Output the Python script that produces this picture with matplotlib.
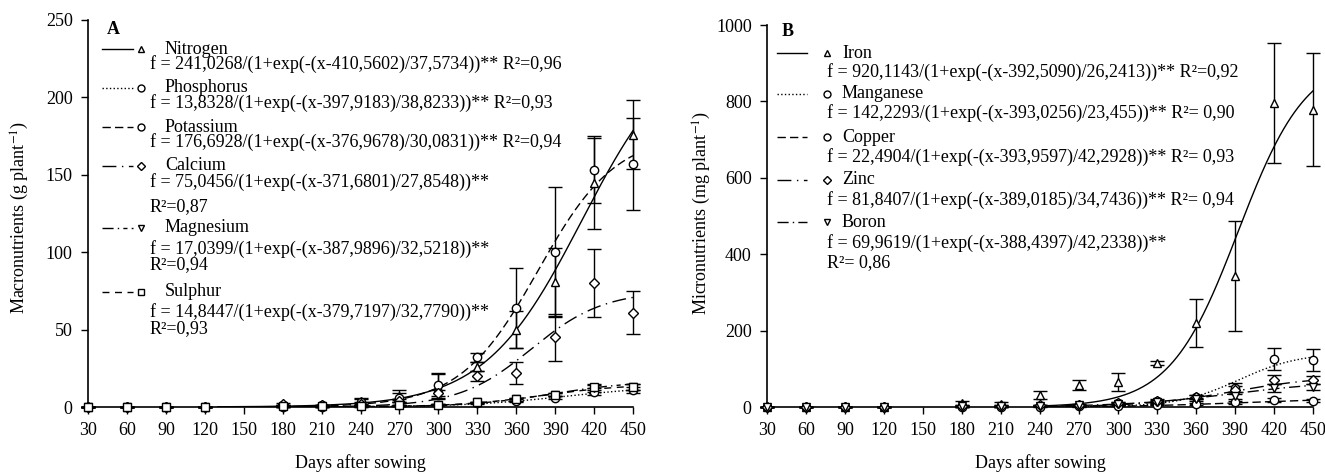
import numpy as np
import matplotlib.pyplot as plt
from matplotlib.lines import Line2D

plt.rcParams['font.family'] = ['Liberation Serif', 'DejaVu Serif']
plt.rcParams['mathtext.fontset'] = 'stix'

W, H = 1325, 474

# sampling days
days = [30, 60, 90, 120, 180, 210, 240, 270, 300, 330, 360, 390, 420, 450]

# ---- panel A: macronutrients (g plant-1) ----
nitrogen = [0, 0, 0, 0, 1, 1, 4, 7, 13, 26, 50, 81, 145, 176]
nitrogen_err = [0, 0, 0, 0, 0.5, 0.5, 2, 4, 8, 3, 12, 22, 30, 22]
phosphorus = [0, 0, 0, 0, 0.3, 0.3, 0.5, 1, 1.5, 2.5, 4, 6, 10, 11]
phosphorus_err = [0, 0, 0, 0, 0, 0, 0.3, 0.5, 0.5, 0.5, 1, 1, 2, 2]
potassium = [0, 0, 0, 0, 1, 1, 3, 6, 14, 32, 64, 100, 153, 157]
potassium_err = [0, 0, 0, 0, 0.5, 0.5, 2, 3, 8, 3, 26, 42, 21, 30]
calcium = [0, 0, 0, 0, 2, 1, 2, 4, 9, 20, 22, 45, 80, 61]
calcium_err = [0, 0, 0, 0, 0.5, 0.5, 1, 1, 2, 3, 7, 15, 22, 14]
magnesium = [0, 0, 0, 0, 0.3, 0.3, 0.5, 1, 1.5, 3, 5, 8, 12, 13]
magnesium_err = [0, 0, 0, 0, 0, 0, 0.3, 0.5, 0.5, 0.5, 1, 1, 2, 2]
sulphur = [0, 0, 0, 0, 0.5, 0.5, 0.8, 1, 1.5, 3, 5, 8, 13, 13]
sulphur_err = [0, 0, 0, 0, 0, 0, 0.3, 0.5, 0.5, 0.5, 1, 1, 2, 2]

macro_names = ['Nitrogen', 'Phosphorus', 'Potassium', 'Calcium', 'Magnesium', 'Sulphur']
macro_a = [241.0268, 13.8328, 176.6928, 75.0456, 17.0399, 14.8447]
macro_x0 = [410.5602, 397.9183, 376.9678, 371.6801, 387.9896, 379.7197]
macro_b = [37.5734, 38.8233, 30.0831, 27.8548, 32.5218, 32.7790]
macro_eq = ['f = 241,0268/(1+exp(-(x-410,5602)/37,5734))** R²=0,96',
            'f = 13,8328/(1+exp(-(x-397,9183)/38,8233))** R²=0,93',
            'f = 176,6928/(1+exp(-(x-376,9678)/30,0831))** R²=0,94',
            'f = 75,0456/(1+exp(-(x-371,6801)/27,8548))**',
            'f = 17,0399/(1+exp(-(x-387,9896)/32,5218))**',
            'f = 14,8447/(1+exp(-(x-379,7197)/32,7790))**']
macro_r2 = [None, None, None, 'R²=0,87', 'R²=0,94', 'R²=0,93']

# ---- panel B: micronutrients (mg plant-1) ----
iron = [0, 0, 0, 0, 10, 8, 31, 57, 66, 115, 220, 343, 796, 778]
iron_err = [0, 0, 0, 0, 6, 4, 10, 13, 24, 6, 62, 144, 158, 148]
manganese = [0, 0, 0, 0, 2, 2, 3, 4, 10, 15, 26, 50, 126, 123]
manganese_err = [0, 0, 0, 0, 1, 1, 1, 2, 3, 4, 6, 12, 28, 30]
copper = [0, 0, 0, 0, 1, 1, 1, 2, 3, 5, 8, 12, 18, 16]
copper_err = [0, 0, 0, 0, 0, 0, 0.5, 1, 1, 1, 2, 4, 5, 4]
zinc = [0, 0, 0, 0, 3, 3, 4, 5, 10, 16, 26, 45, 71, 71]
zinc_err = [0, 0, 0, 0, 1, 1, 1, 2, 3, 4, 6, 10, 12, 10]
boron = [0, 0, 0, 0, 2, 2, 3, 4, 8, 12, 20, 30, 50, 53]
boron_err = [0, 0, 0, 0, 1, 1, 1, 1, 2, 3, 4, 8, 10, 8]

micro_names = ['Iron', 'Manganese', 'Copper', 'Zinc', 'Boron']
micro_a = [920.1143, 142.2293, 22.4904, 81.8407, 69.9619]
micro_x0 = [392.5090, 393.0256, 393.9597, 389.0185, 388.4397]
micro_b = [26.2413, 23.455, 42.2928, 34.7436, 42.2338]
micro_eq = ['f = 920,1143/(1+exp(-(x-392,5090)/26,2413))** R²=0,92',
            'f = 142,2293/(1+exp(-(x-393,0256)/23,455))** R²= 0,90',
            'f = 22,4904/(1+exp(-(x-393,9597)/42,2928))** R²= 0,93',
            'f = 81,8407/(1+exp(-(x-389,0185)/34,7436))** R²= 0,94',
            'f = 69,9619/(1+exp(-(x-388,4397)/42,2338))**']
micro_r2 = [None, None, None, None, 'R²= 0,86']

# styles
macro_marker = ['^', 'o', 'o', 'D', 'v', 's']
macro_ls = ['-', ':', (0, (6, 3)), (0, (10, 4, 1, 4)), (0, (8, 3, 1, 3, 3, 3)), (0, (5, 4))]
micro_marker = ['^', 'o', 'o', 'D', 'v']
micro_ls = ['-', ':', (0, (6, 3)), (0, (10, 4, 1, 4)), (0, (8, 3, 1, 3))]


def logistic(x, a, x0, b):
    return a / (1 + np.exp(-(x - x0) / b))


def fx(px):
    return px / W


def fy(py):
    return 1 - py / H


fig = plt.figure(figsize=(W / 100, H / 100), dpi=100)
axA = fig.add_axes([fx(88), fy(407), fx(633 - 88), (407 - 20) / H])
axB = fig.add_axes([fx(767), fy(407), fx(1313 - 767), (407 - 25) / H])


def draw_panel(ax, series, errs, a, x0, b, markers, styles, x_start, ymax, ystep):
    xs = np.linspace(x_start, 450, 300)
    for vals, err, aa, xx, bb, mk, ls in zip(series, errs, a, x0, b, markers, styles):
        ax.plot(xs, logistic(xs, aa, xx, bb), color='black', lw=1, linestyle=ls, zorder=2)
        ax.errorbar(days, vals, yerr=err, fmt=mk, ms=6 if mk != 'D' else 5.5,
                    mfc='white', mec='black', mew=1, ecolor='black', elinewidth=1,
                    capsize=5, capthick=1, zorder=3, clip_on=False)
    ax.set_xlim(30, 450)
    ax.set_ylim(0, ymax)
    ax.set_xticks(range(30, 451, 30))
    ax.set_yticks(range(0, ymax + 1, ystep))
    for s in ['top', 'right']:
        ax.spines[s].set_visible(False)
    for s in ['left', 'bottom']:
        ax.spines[s].set_linewidth(1.2)
    ax.tick_params(direction='out', length=5, width=1, labelsize=13, pad=6)
    ax.patch.set_alpha(0)


draw_panel(axA, [nitrogen, phosphorus, potassium, calcium, magnesium, sulphur],
           [nitrogen_err, phosphorus_err, potassium_err, calcium_err, magnesium_err, sulphur_err],
           macro_a, macro_x0, macro_b, macro_marker, macro_ls, 130, 250, 50)
draw_panel(axB, [iron, manganese, copper, zinc, boron],
           [iron_err, manganese_err, copper_err, zinc_err, boron_err],
           micro_a, micro_x0, micro_b, micro_marker, micro_ls, 240, 1000, 200)


def legend_block(rows, names, eqs, r2s, markers, styles, line_x, mk_x, name_x, eq_x):
    for (yn, ye, yr), nm, eq, r2, mk, ls in zip(rows, names, eqs, r2s, markers, styles):
        fig.add_artist(Line2D([fx(line_x[0]), fx(line_x[1])], [fy(yn), fy(yn)],
                              transform=fig.transFigure, color='black', lw=1, linestyle=ls))
        fig.add_artist(Line2D([fx(mk_x)], [fy(yn)], transform=fig.transFigure,
                              marker=mk, ms=5 if mk != 'D' else 4.5, mfc='white',
                              mec='black', mew=1, linestyle='none'))
        fig.text(fx(name_x), fy(yn), nm, fontsize=13, va='center', ha='left')
        fig.text(fx(eq_x), fy(ye), eq, fontsize=13, va='center', ha='left')
        if r2:
            fig.text(fx(eq_x), fy(yr), r2, fontsize=13, va='center', ha='left')


rowsA = [(49, 64, None), (88, 103, None), (127, 142, None),
         (166, 182, 207), (228, 249, 265), (292, 312, 329)]
legend_block(rowsA, macro_names, macro_eq, macro_r2, macro_marker, macro_ls,
             (102, 133), 141, 165, 150)
rowsB = [(53, 72, None), (94, 113, None), (137, 157, None), (180, 200, None), (222, 243, 263)]
legend_block(rowsB, micro_names, micro_eq, micro_r2, micro_marker, micro_ls,
             (777, 807), 827, 842, 827)

fig.text(fx(107), fy(30), 'A', fontsize=13, fontweight='bold', va='center')
fig.text(fx(782), fy(32), 'B', fontsize=13, fontweight='bold', va='center')

fig.text(fx(20), fy(217), 'Macronutrients (g plant$^{-1}$)', rotation=90,
         fontsize=13, va='center', ha='center')
fig.text(fx(702), fy(213), 'Micronutrients (mg plant$^{-1}$)', rotation=90,
         fontsize=13, va='center', ha='center')
fig.text(fx(360), fy(463), 'Days after sowing', fontsize=13, va='center', ha='center')
fig.text(fx(1040), fy(463), 'Days after sowing', fontsize=13, va='center', ha='center')

fig.savefig('out.png', dpi=100)
